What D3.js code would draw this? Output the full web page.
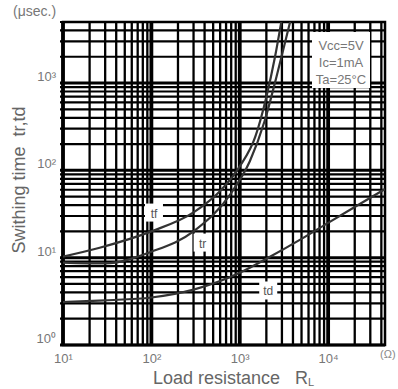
<!DOCTYPE html>
<html>
<head>
<meta charset="utf-8">
<script src="https://cdn.jsdelivr.net/npm/d3@7"></script>
<style>
  body { margin: 0; background: #fff; }
  svg { display: block; font-family: "Liberation Sans", Arial, sans-serif; }
</style>
</head>
<body>
<svg id="chart" width="398" height="389"></svg>
<script>
// load resistance (ohm) / switching time (usec)
const tfR = [10, 26, 100, 300, 600, 1000, 1500, 2000, 2500, 3000];
const tfT = [10.3, 13, 20, 33, 58, 111, 243, 693, 1970, 5500];
const trR = [10, 30, 100, 300, 800, 1300, 1900, 2600, 3300, 3800];
const trT = [8.8, 8.6, 11.7, 20, 55, 127, 360, 1170, 3090, 5500];
const tdR = [10, 30, 100, 300, 1000, 2000, 5000, 10000, 20000, 44000];
const tdT = [3.1, 3.25, 3.5, 4.3, 6.7, 9.7, 16.4, 25, 38, 61];

const xDecades = [10, 100, 1000, 10000];
const xTickLabels = ['10\u00b9', '10\u00b2', '10\u00b3', '10\u2074'];
const yDecades = [1, 10, 100, 1000];
const yTickLabels = ['10\u2070', '10\u00b9', '10\u00b2', '10\u00b3'];
const conditions = ['Vcc=5V', 'Ic=1mA', 'Ta=25\u00b0C'];

const margin = { top: 22, right: 13, bottom: 44, left: 63 };
const W = 398, H = 389;
const width = W - margin.left - margin.right;
const height = H - margin.top - margin.bottom;

const svg = d3.select('#chart');
const g = svg.append('g')
  .attr('transform', 'translate(' + margin.left + ',' + margin.top + ')');

const x = d3.scaleLog().domain([10, 44000]).range([0, width]);
const y = d3.scaleLog().domain([1, 5000]).range([height, 0]);

const isDecade = function (v) { return Math.abs(Math.log10(v) - Math.round(Math.log10(v))) < 1e-9; };

// dense log grid
g.selectAll('.vgrid')
  .data(x.ticks())
  .enter().append('line')
  .attr('x1', function (d) { return x(d); })
  .attr('x2', function (d) { return x(d); })
  .attr('y1', 0).attr('y2', height)
  .attr('stroke', '#000')
  .attr('stroke-width', function (d) { return isDecade(d) ? 3.8 : 2.3; });

g.selectAll('.hgrid')
  .data(y.ticks())
  .enter().append('line')
  .attr('x1', -3).attr('x2', width)
  .attr('y1', function (d) { return y(d); })
  .attr('y2', function (d) { return y(d); })
  .attr('stroke', '#000')
  .attr('stroke-width', function (d) { return isDecade(d) ? 3 : 2.2; });

// frame
g.append('rect')
  .attr('width', width).attr('height', height)
  .attr('fill', 'none').attr('stroke', '#000').attr('stroke-width', 2.5);

// conditions box
const box = g.append('g');
box.append('rect')
  .attr('x', 249).attr('y', 10).attr('width', 58).attr('height', 56)
  .attr('fill', '#fff');
box.selectAll('text')
  .data(conditions)
  .enter().append('text')
  .attr('x', 278)
  .attr('y', function (d, i) { return 28 + i * 17; })
  .attr('text-anchor', 'middle')
  .attr('font-size', 13)
  .attr('fill', '#777')
  .text(function (d) { return d; });

// curve labels with white patches
const labels = [
  { t: 'tf', r: 107, v: 32 },
  { t: 'tr', r: 380, v: 14.5 },
  { t: 'td', r: 2100, v: 4.1 }
];
labels.forEach(function (l) {
  g.append('rect')
    .attr('x', x(l.r) - 9).attr('y', y(l.v) - 10)
    .attr('width', 18).attr('height', 18)
    .attr('fill', '#fff');
  g.append('text')
    .attr('x', x(l.r)).attr('y', y(l.v) + 4)
    .attr('text-anchor', 'middle')
    .attr('font-size', 12)
    .attr('fill', '#555')
    .text(l.t);
});

// curves
g.append('clipPath').attr('id', 'clip')
  .append('rect').attr('width', width).attr('height', height);

const line = d3.line()
  .x(function (d) { return x(d[0]); })
  .y(function (d) { return y(d[1]); })
  .curve(d3.curveMonotoneX);

[[tfR, tfT], [trR, trT], [tdR, tdT]].forEach(function (s) {
  g.append('path')
    .datum(d3.zip(s[0], s[1]))
    .attr('clip-path', 'url(#clip)')
    .attr('fill', 'none')
    .attr('stroke', '#333')
    .attr('stroke-width', 2.2)
    .attr('d', line);
});

// x axis labels
const xAxis = d3.axisBottom(x)
  .tickValues(xDecades)
  .tickSize(0)
  .tickPadding(9)
  .tickFormat(function (d, i) { return xTickLabels[i]; });
g.append('g')
  .attr('transform', 'translate(0,' + height + ')')
  .call(xAxis)
  .call(function (a) { a.select('.domain').remove(); })
  .selectAll('text')
  .attr('font-size', 13)
  .attr('fill', '#777');

// y axis labels
const yAxis = d3.axisLeft(y)
  .tickValues(yDecades)
  .tickSize(0)
  .tickPadding(7)
  .tickFormat(function (d, i) { return yTickLabels[i]; });
g.append('g')
  .call(yAxis)
  .call(function (a) { a.select('.domain').remove(); })
  .selectAll('text')
  .attr('dy', '-0.2em')
  .attr('font-size', 13)
  .attr('fill', '#777');

// titles
svg.append('text')
  .attr('x', 13).attr('y', 16)
  .attr('font-size', 14)
  .attr('fill', '#777')
  .text('(\u03bcsec.)');

svg.append('text')
  .attr('x', 380).attr('y', 358)
  .attr('font-size', 11)
  .attr('fill', '#888')
  .text('(\u03a9)');

svg.append('text')
  .attr('transform', 'translate(25,180) rotate(-90)')
  .attr('text-anchor', 'middle')
  .attr('font-size', 18)
  .attr('fill', '#666')
  .attr('xml:space', 'preserve')
  .text('Swithing time  tr,td');

const xt = svg.append('text')
  .attr('x', 153).attr('y', 384)
  .attr('font-size', 18)
  .attr('fill', '#666')
  .attr('xml:space', 'preserve');
xt.append('tspan').text('Load resistance   R');
xt.append('tspan').attr('font-size', 11).attr('dy', 2).text('L');
</script>
</body>
</html>
